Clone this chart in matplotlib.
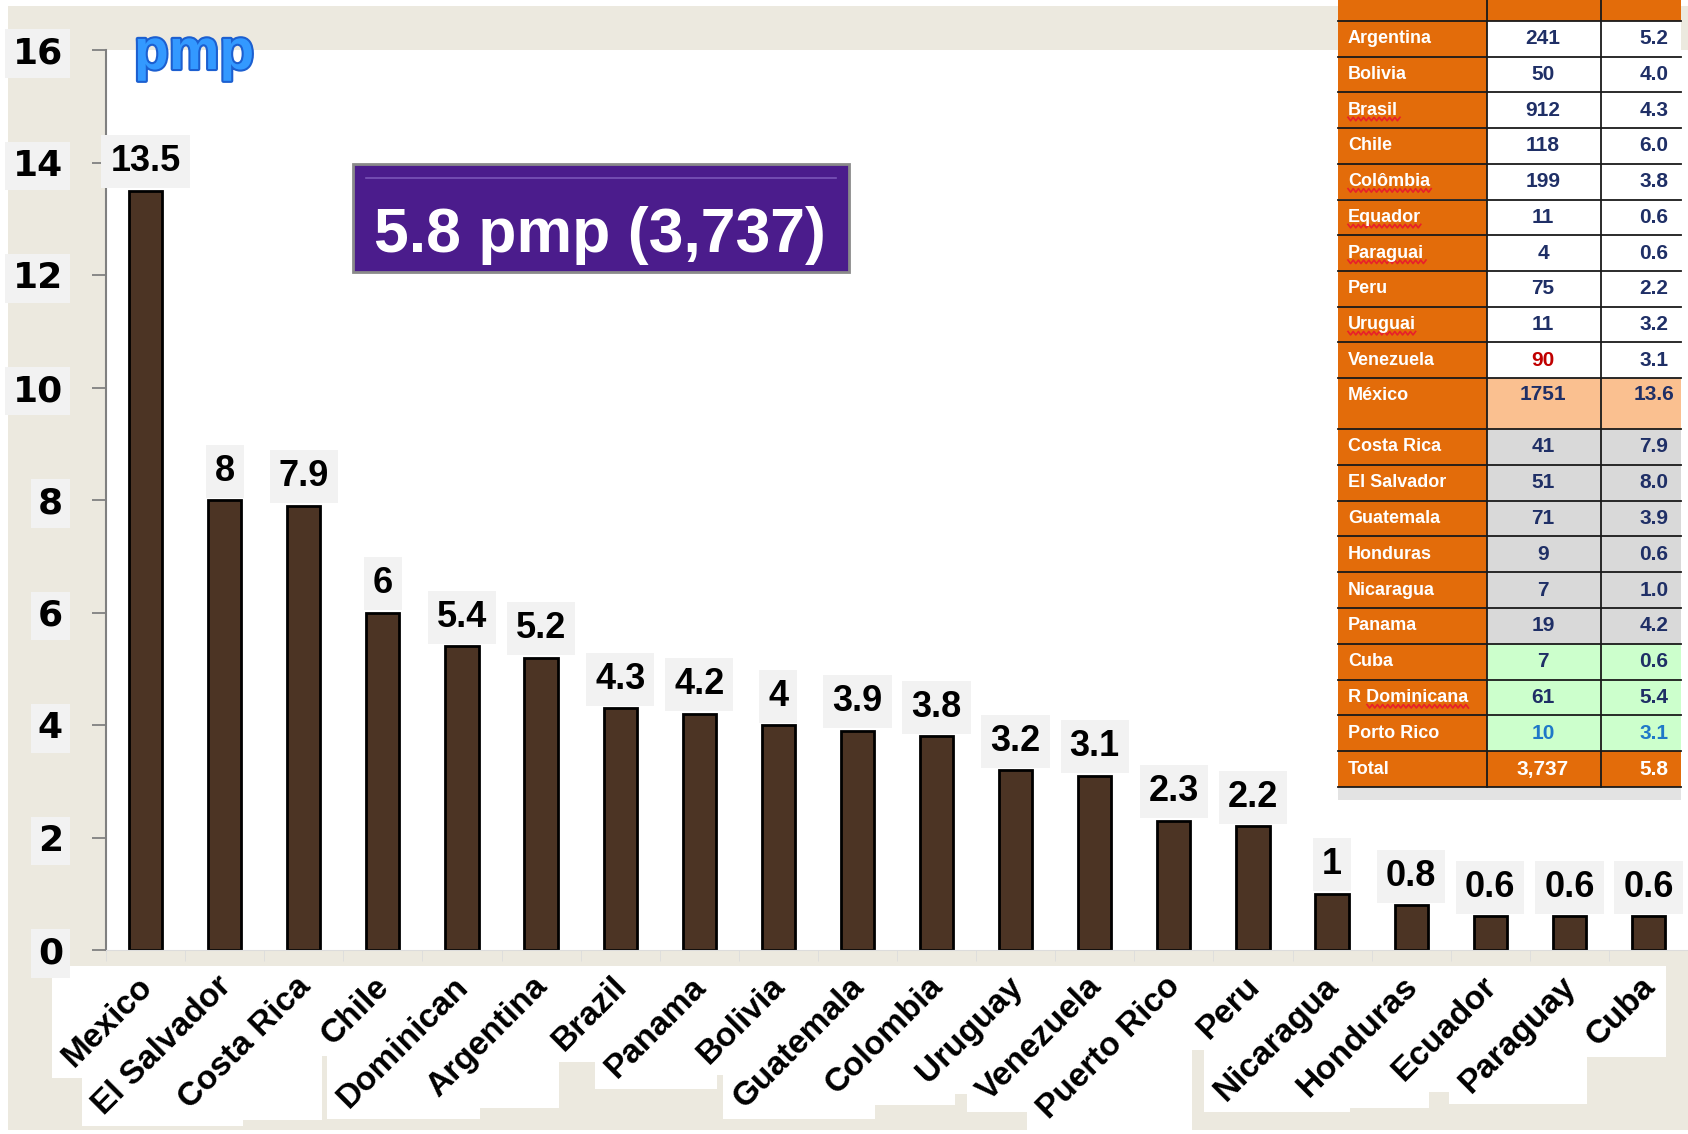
import matplotlib
matplotlib.use("Agg")
import matplotlib.pyplot as plt
import matplotlib.patheffects as pe
from matplotlib.patches import Rectangle
from matplotlib.transforms import ScaledTranslation

plt.rcParams["font.family"] = ["Liberation Sans", "DejaVu Sans"]

W, H = 1688, 1134

# bar chart data
countries = ["Mexico", "El Salvador", "Costa Rica", "Chile", "Dominican", "Argentina",
             "Brazil", "Panama", "Bolivia", "Guatemala", "Colombia", "Uruguay",
             "Venezuela", "Puerto Rico", "Peru", "Nicaragua", "Honduras", "Ecuador",
             "Paraguay", "Cuba"]
pmp = [13.5, 8, 7.9, 6, 5.4, 5.2, 4.3, 4.2, 4, 3.9, 3.8, 3.2, 3.1, 2.3, 2.2, 1, 0.8, 0.6, 0.6, 0.6]
yticks = [0, 2, 4, 6, 8, 10, 12, 14, 16]

# side table data
tbl_names = ["Argentina", "Bolivia", "Brasil", "Chile", "Colômbia", "Equador", "Paraguai",
             "Peru", "Uruguai", "Venezuela", "México", "Costa Rica", "El Salvador",
             "Guatemala", "Honduras", "Nicaragua", "Panama", "Cuba", "R Dominicana",
             "Porto Rico", "Total"]
tbl_counts = ["241", "50", "912", "118", "199", "11", "4", "75", "11", "90", "1751",
              "41", "51", "71", "9", "7", "19", "7", "61", "10", "3,737"]
tbl_pmp = ["5.2", "4.0", "4.3", "6.0", "3.8", "0.6", "0.6", "2.2", "3.2", "3.1", "13.6",
           "7.9", "8.0", "3.9", "0.6", "1.0", "4.2", "0.6", "5.4", "3.1", "5.8"]
spellcheck = ["Brasil", "Colômbia", "Equador", "Paraguai", "Uruguai", "R Dominicana"]
total_label = "5.8 pmp (3,737)"

BEIGE = "#ECE9DF"
ORANGE = "#E36C0A"
NAVY = "#1F2F66"

fig = plt.figure(figsize=(W / 100, H / 100), dpi=100, facecolor="white")

# background layer in pixel coords
bg = fig.add_axes([0, 0, 1, 1], zorder=-1)
bg.set_xlim(0, W)
bg.set_ylim(H, 0)
bg.axis("off")
bg.add_patch(Rectangle((8, 6), W - 8, H - 10, fc=BEIGE, ec="none"))

# main chart
ax = fig.add_axes([106 / W, 1 - 950 / H, 1 - 106 / W, 900 / H], zorder=0)
ax.set_facecolor("white")
x = list(range(len(countries)))
ax.bar(x, pmp, width=0.42, color="#4c3424", edgecolor="black", linewidth=2, zorder=2)
for i, v in enumerate(pmp):
    ax.annotate(f"{v:g}", (i, v), xytext=(0, 14), textcoords="offset points",
                ha="center", va="baseline", fontsize=26, fontweight="bold", zorder=4,
                bbox=dict(boxstyle="square,pad=0.25", fc="#F2F2F2", ec="none"))

ax.set_xlim(-0.5, len(countries) - 0.5)
ax.set_ylim(0, 16)
ax.set_yticks(yticks)
ax.set_yticklabels([str(t) for t in yticks], fontsize=26, fontweight="bold",
                   family="DejaVu Sans",
                   bbox=dict(boxstyle="square,pad=0.2", fc="#F2F2F2", ec="none"))
ax.tick_params(axis="y", direction="out", length=10, width=1.3, color="#808080", pad=21)
ax.set_xticks(x)
ax.set_xticklabels(countries, rotation=45, ha="right", fontsize=24, fontweight="bold")
ax.tick_params(axis="x", length=0, pad=15)
shift = ScaledTranslation(0.13, 0, fig.dpi_scale_trans)
for lbl in ax.get_xticklabels():
    lbl.set_transform(lbl.get_transform() + shift)
ax.set_xticks([i - 0.5 for i in range(len(countries) + 1)], minor=True)
ax.tick_params(axis="x", which="minor", length=8, color="#dcdcdc")
for s in ["top", "right"]:
    ax.spines[s].set_visible(False)
ax.spines["left"].set_color("#808080")
ax.spines["left"].set_linewidth(1.5)
ax.spines["bottom"].set_color("#dcdcdc")

# overlay layer in pixel coords
ov = fig.add_axes([0, 0, 1, 1], zorder=5)
ov.set_xlim(0, W)
ov.set_ylim(H, 0)
ov.axis("off")
ov.patch.set_alpha(0)

ov.text(134, 69, "pmp", fontsize=41, fontweight="bold", color="#3399FF",
        ha="left", va="baseline",
        path_effects=[pe.withStroke(linewidth=3, foreground="#1C5FD0")])

ov.add_patch(Rectangle((353, 164), 496, 108, fc="#4B1C8C", ec="#8a8a8a", lw=2))
ov.plot([366, 836], [178, 178], color="#7a55b8", lw=1.2)
ov.text(600, 252, total_label, fontsize=45, fontweight="bold", color="white",
        ha="center", va="baseline")

# table
c0, c1, c2, c3 = 1338, 1487, 1601, 1681
row_h = [35.7] * 10 + [51] + [35.8] * 10
ov.add_patch(Rectangle((c0, -5), c3 - c0, 26, fc=ORANGE, ec="none"))
y = 21
name_texts = []
for k, name in enumerate(tbl_names):
    h = row_h[k]
    if k < 10:
        fill = "white"
    elif k == 10:
        fill = "#FAC090"
    elif k < 17:
        fill = "#D9D9D9"
    elif k < 20:
        fill = "#CCFFCC"
    else:
        fill = ORANGE
    ov.add_patch(Rectangle((c0, y), c1 - c0, h, fc=ORANGE, ec="none"))
    ov.add_patch(Rectangle((c1, y), c3 - c1, h, fc=fill, ec="none"))
    ty = y + h / 2 if k != 10 else y + 17
    col = NAVY
    if k == 20:
        col = "white"
    elif k == 19:
        col = "#1F78C8"
    t = ov.text(c0 + 10, ty, name, fontsize=13, fontweight="bold", color="white",
                ha="left", va="center")
    name_texts.append((t, ty))
    ov.text(1543, ty, tbl_counts[k], fontsize=15, fontweight="bold",
            color="#C00000" if k == 9 else col, ha="center", va="center")
    ov.text(1654, ty, tbl_pmp[k], fontsize=15, fontweight="bold", color=col,
            ha="center", va="center")
    y += h
    ov.plot([c0, c3], [y, y], color="#1a1a1a", lw=1.3)
ov.plot([c0, c3], [21, 21], color="#1a1a1a", lw=1.3)
for cx in (c1, c2):
    ov.plot([cx, cx], [-5, y], color="#1a1a1a", lw=1.3)
ov.add_patch(Rectangle((c0, y + 1), c3 - c0, 12, fc="#E3E3E3", ec="none"))

fig.canvas.draw()
r = fig.canvas.get_renderer()

# white boxes behind the rotated category labels
for lbl in ax.get_xticklabels():
    bb = lbl.get_window_extent(r)
    bg.add_patch(Rectangle((bb.x0 - 5, H - bb.y1 - 5), bb.width + 10, bb.height + 10,
                           fc="white", ec="none"))

# red spell-check squiggles under some table names
for t, ty in name_texts:
    if t.get_text() not in spellcheck:
        continue
    bb = t.get_window_extent(r)
    x0 = bb.x0 + (19 if t.get_text().startswith("R ") else 0)
    xs, ys = [], []
    xx, up = x0, True
    while xx <= bb.x1 + 2:
        xs.append(xx)
        ys.append(ty + (7 if up else 10.5))
        xx += 2.6
        up = not up
    ov.plot(xs, ys, color="#E8202A", lw=1.2)

fig.savefig("out.png", dpi=100, facecolor="white")
